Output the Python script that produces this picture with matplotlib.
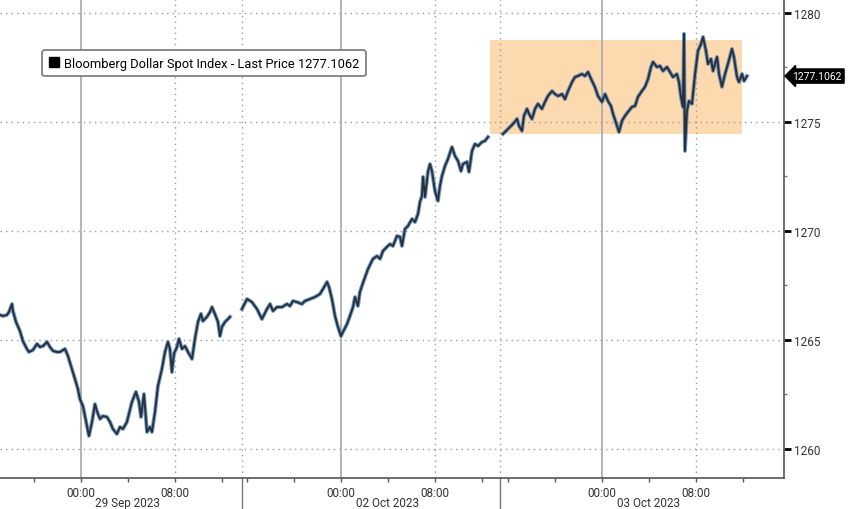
import numpy as np
import matplotlib.pyplot as plt
from matplotlib.lines import Line2D
from matplotlib.patches import Rectangle
import matplotlib.transforms as mtransforms

plt.rcParams['font.family'] = ['Roboto', 'DejaVu Sans']

# time axis is in "chart hours": 0 = 29 Sep 00:00, gaps between sessions are squeezed out
day_starts = [0.0, 22.13, 44.34]
day_labels = ['29 Sep 2023', '02 Oct 2023', '03 Oct 2023']
session_breaks = [13.70, 35.66]

# Bloomberg Dollar Spot Index
s1_t = [-6.89, -6.64, -6.30, -6.13, -5.87, -5.79, -5.53, -5.19, -4.94, -4.60, -4.43, -4.09,
        -3.74, -3.49, -3.23, -2.89, -2.64, -2.38, -2.04, -1.79, -1.36, -1.11, -0.77, -0.51,
        -0.26, -0.09, 0.17, 0.34, 0.51, 0.68, 0.94, 1.19, 1.36, 1.62, 1.87, 2.21, 2.47, 2.72,
        3.06, 3.32, 3.57, 3.91, 4.34, 4.68, 4.94, 5.11, 5.36, 5.62, 5.87, 6.04, 6.30, 6.55,
        6.89, 7.15, 7.40, 7.57, 7.74, 7.91, 8.17, 8.34, 8.60, 8.85, 9.11, 9.45, 9.70, 9.96,
        10.21, 10.38, 10.72, 10.98, 11.15, 11.40, 11.66, 11.83, 12.00, 12.26, 12.51, 12.68]
s1_v = [1266.15, 1266.10, 1266.15, 1266.28, 1266.65, 1266.33, 1265.83, 1265.41, 1264.95,
        1264.59, 1264.45, 1264.54, 1264.82, 1264.68, 1264.72, 1264.91, 1264.68, 1264.50,
        1264.45, 1264.45, 1264.59, 1264.27, 1263.67, 1263.21, 1262.75, 1262.29, 1261.97,
        1261.51, 1261.05, 1260.60, 1261.24, 1262.06, 1261.74, 1261.38, 1261.51, 1261.47,
        1261.24, 1260.92, 1260.69, 1261.01, 1260.92, 1261.24, 1262.16, 1262.62, 1262.16,
        1261.47, 1262.52, 1260.78, 1261.01, 1260.78, 1261.70, 1262.89, 1263.67, 1264.45,
        1264.91, 1264.59, 1263.53, 1264.36, 1264.68, 1265.05, 1264.59, 1264.72, 1264.45,
        1264.13, 1265.05, 1265.83, 1266.20, 1265.87, 1266.06, 1266.28, 1266.51, 1266.19,
        1265.83, 1265.18, 1265.60, 1265.83, 1265.96, 1266.06]

s2_t = [13.70, 14.13, 14.55, 14.98, 15.40, 15.83, 16.09, 16.34, 16.68, 17.11, 17.53, 17.79,
        18.04, 18.38, 18.81, 19.06, 19.49, 19.91, 20.34, 20.60, 20.94, 21.11, 21.36, 21.62,
        21.87, 22.13, 22.30, 22.64, 22.89, 23.15, 23.32, 23.57, 23.74, 24.00, 24.43, 24.85,
        25.19, 25.45, 25.70, 26.04, 26.30, 26.55, 26.89, 27.15, 27.32, 27.57, 27.83, 28.17,
        28.43, 28.68, 28.85, 29.02, 29.11, 29.28, 29.53, 29.70, 29.87, 30.13, 30.38, 30.55,
        30.72, 30.98, 31.23, 31.57, 31.83, 32.09, 32.34, 32.51, 32.85, 33.02, 33.28, 33.53,
        33.79, 34.13, 34.38, 34.64]
s2_v = [1266.42, 1266.88, 1266.74, 1266.42, 1265.96, 1266.42, 1266.65, 1266.33, 1266.51,
        1266.51, 1266.65, 1266.56, 1266.79, 1266.74, 1266.65, 1266.79, 1266.88, 1266.97,
        1267.11, 1267.34, 1267.66, 1267.43, 1266.88, 1266.10, 1265.60, 1265.18, 1265.37,
        1265.73, 1266.10, 1266.51, 1266.97, 1266.56, 1267.20, 1267.62, 1268.26, 1268.72,
        1268.85, 1268.72, 1269.08, 1269.27, 1269.40, 1269.31, 1269.77, 1269.73, 1269.31,
        1270.09, 1270.23, 1270.55, 1270.41, 1270.78, 1271.33, 1271.61, 1272.48, 1271.56,
        1272.71, 1273.07, 1272.75, 1271.83, 1271.38, 1272.06, 1272.52, 1272.98, 1273.30,
        1273.85, 1273.44, 1273.21, 1272.75, 1273.07, 1273.17, 1272.71, 1273.67, 1273.99,
        1273.90, 1274.08, 1274.13, 1274.31]

s3_t = [35.91, 36.34, 36.77, 37.11, 37.28, 37.53, 37.70, 37.96, 38.13, 38.38, 38.64, 38.89,
        39.23, 39.49, 39.74, 40.09, 40.34, 40.60, 40.94, 41.19, 41.45, 41.79, 42.04, 42.30,
        42.64, 42.89, 43.15, 43.49, 43.74, 44.00, 44.34, 44.60, 44.85, 45.11, 45.28, 45.62,
        45.79, 46.04, 46.30, 46.55, 46.89, 47.15, 47.40, 47.74, 48.00, 48.26, 48.51, 48.68,
        49.02, 49.28, 49.53, 49.87, 50.13, 50.38, 50.72, 50.89, 51.06, 51.23, 51.32, 51.40,
        51.57, 51.74, 52.00, 52.26, 52.51, 52.77, 52.94, 53.19, 53.36, 53.62, 53.79, 54.13,
        54.30, 54.55, 54.81, 55.06, 55.40, 55.57, 55.83, 56.00, 56.26, 56.43, 56.68]
s3_v = [1274.45, 1274.68, 1274.91, 1275.14, 1274.82, 1274.59, 1275.28, 1275.60, 1275.37,
        1275.14, 1275.60, 1275.83, 1275.60, 1275.92, 1276.19, 1276.42, 1276.28, 1276.19,
        1276.28, 1276.05, 1276.42, 1276.83, 1277.06, 1277.11, 1277.20, 1277.11, 1277.29,
        1276.88, 1276.60, 1276.19, 1275.92, 1276.28, 1275.96, 1275.73, 1275.37, 1274.82,
        1274.54, 1275.05, 1275.28, 1275.46, 1275.69, 1275.73, 1276.15, 1276.42, 1276.61,
        1276.97, 1277.52, 1277.75, 1277.52, 1277.57, 1277.34, 1277.52, 1277.29, 1277.06,
        1277.20, 1276.83, 1276.15, 1275.69, 1279.04, 1273.67, 1275.50, 1275.96, 1275.83,
        1277.20, 1278.26, 1278.58, 1278.90, 1278.26, 1277.66, 1277.89, 1277.34, 1277.98,
        1277.20, 1276.61, 1277.20, 1277.66, 1278.35, 1277.98, 1277.06, 1276.83, 1277.20,
        1276.88, 1277.1062]

last_price = 1277.1062
box_t = (34.81, 56.26)
box_v = (1274.45, 1278.76)

fig = plt.figure(figsize=(8.48, 5.10), dpi=100)
ax = fig.add_axes([0.0, 31 / 510, 784 / 848, 479 / 510])
ax.set_xlim(-6.89, 59.83)
ax.set_ylim(1258.67, 1280.64)

# highlight box
ax.add_patch(Rectangle((box_t[0], box_v[0]), box_t[1] - box_t[0], box_v[1] - box_v[0],
                       facecolor='#fcd9ae', edgecolor='none', zorder=0.5))

# grid
for y in [1260, 1265, 1270, 1275, 1280]:
    ax.axhline(y, color='#9a9a9a', lw=1.0, ls=(0, (1, 3)), zorder=1)
for d in day_starts:
    ax.axvline(d, color='#a8a8a8', lw=1.2, zorder=1)
    ax.axvline(d + 8, color='#9a9a9a', lw=1.0, ls=(0, (1, 3)), zorder=1)
for b in session_breaks:
    ax.axvline(b, color='#9a9a9a', lw=1.0, ls=(0, (1, 3)), zorder=1)

# price line
for t, v in [(s1_t, s1_v), (s2_t, s2_v), (s3_t, s3_v)]:
    ax.plot(t, v, color='#4d82bb', lw=2.8, alpha=0.8, zorder=3, solid_joinstyle='round')
    ax.plot(t, v, color='#1e1e1e', lw=1.4, alpha=0.85, zorder=4, solid_joinstyle='round')

# spines
for side in ['top', 'left']:
    ax.spines[side].set_visible(False)
for side in ['right', 'bottom']:
    ax.spines[side].set_color('#555555')
    ax.spines[side].set_linewidth(1.2)

# y axis on the right
ax.yaxis.tick_right()
ax.set_yticks([1260, 1265, 1270, 1275, 1280])
ax.set_yticks([1262.5, 1267.5, 1272.5, 1277.5], minor=True)
ax.tick_params(axis='y', which='major', length=5, width=2, color='black', labelsize=8.5,
               labelcolor='#333333', pad=2)
ax.tick_params(axis='y', which='minor', length=2, width=1, color='#777777')

# x axis
major_x = []
for d in day_starts:
    major_x += [d, d + 8]
minor_x = [d + 4 * k for d in day_starts for k in range(-2, 4)]
minor_x = [m for m in minor_x if -6.89 < m < 59.83 and m not in major_x]
ax.set_xticks(major_x)
ax.set_xticklabels(['00:00', '08:00'] * 3)
ax.set_xticks(minor_x, minor=True)
ax.tick_params(axis='x', which='both', length=3, width=1, color='#555555', labelsize=8.5,
               labelcolor='#333333', pad=3)

trans = mtransforms.blended_transform_factory(ax.transData, ax.transAxes)
for d, lab in zip(day_starts, day_labels):
    ax.text(d + 4, -25 / 479, lab, transform=trans, ha='center', va='center', fontsize=8.5,
            color='#333333')
for b in session_breaks:
    ax.plot([b, b], [0, -31 / 479], transform=trans, color='#777777', lw=1, clip_on=False)

# legend
handle = Line2D([], [], marker='s', color='black', linestyle='none', markersize=7)
leg = ax.legend([handle], ['Bloomberg Dollar Spot Index - Last Price 1277.1062'],
                loc='upper left', bbox_to_anchor=(0.054, 0.893), fontsize=9.3,
                frameon=True, fancybox=True, handlelength=0.8, handletextpad=0.4,
                borderpad=0.5, borderaxespad=0)
leg.get_frame().set_edgecolor('#777777')
leg.get_frame().set_linewidth(1.2)
leg.get_frame().set_alpha(1)

# last price tag
ytrans = mtransforms.blended_transform_factory(ax.transAxes, ax.transData)
ax.text(1.011, last_price, '1277.1062', transform=ytrans, ha='left', va='center',
        fontsize=7.5, color='white', clip_on=False,
        bbox=dict(boxstyle='larrow,pad=0.2', facecolor='black', edgecolor='black'))

fig.savefig('out.png', dpi=100)
